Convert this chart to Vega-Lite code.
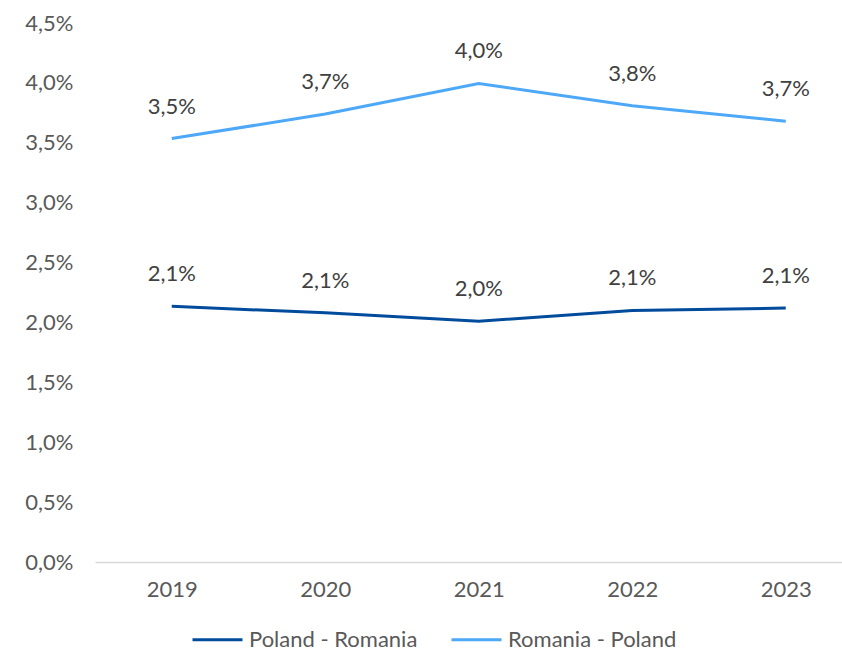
{
  "$schema": "https://vega.github.io/schema/vega-lite/v6.json",
  "width": 747,
  "height": 539,
  "autosize": {"type": "none"},
  "padding": {"left": 95, "top": 23, "right": 0, "bottom": 91},
  "background": "white",
  "config": {
    "locale": {"number": {"decimal": ",", "thousands": ".", "grouping": [3], "currency": ["", " €"]}},
    "view": {"stroke": null},
    "font": "Lato"
  },
  "data": {
    "values": [
      {"year": "2019", "series": "Poland - Romania", "value": 0.02135},
      {"year": "2020", "series": "Poland - Romania", "value": 0.0208},
      {"year": "2021", "series": "Poland - Romania", "value": 0.0201},
      {"year": "2022", "series": "Poland - Romania", "value": 0.0210},
      {"year": "2023", "series": "Poland - Romania", "value": 0.0212},
      {"year": "2019", "series": "Romania - Poland", "value": 0.03535},
      {"year": "2020", "series": "Romania - Poland", "value": 0.0374},
      {"year": "2021", "series": "Romania - Poland", "value": 0.03995},
      {"year": "2022", "series": "Romania - Poland", "value": 0.0381},
      {"year": "2023", "series": "Romania - Poland", "value": 0.0368}
    ]
  },
  "encoding": {
    "x": {
      "field": "year", "type": "ordinal",
      "scale": {"type": "point", "padding": 0.5, "range": [0, 767.5]},
      "axis": {
        "title": null, "labelAngle": 0, "ticks": false, "grid": false,
        "domainColor": "#d9d9d9", "domainWidth": 1.5,
        "labelFontSize": 22, "labelColor": "#595959", "labelPadding": 17, "labelFont": "Lato"
      }
    },
    "y": {
      "field": "value", "type": "quantitative",
      "scale": {"domain": [0, 0.045], "nice": false, "zero": true},
      "axis": {
        "title": null, "format": ".1%", "values": [0, 0.005, 0.01, 0.015, 0.02, 0.025, 0.03, 0.035, 0.04, 0.045],
        "domain": false, "ticks": false, "grid": false,
        "labelFontSize": 22, "labelColor": "#595959", "labelPadding": 22, "labelFont": "Lato"
      }
    },
    "color": {
      "field": "series", "type": "nominal",
      "scale": {"domain": ["Poland - Romania", "Romania - Poland"], "range": ["#004B9C", "#4DA8F7"]},
      "legend": {
        "title": null, "orient": "none", "legendX": 96, "legendY": 590,
        "direction": "horizontal", "symbolType": "stroke", "symbolSize": 2500, "symbolStrokeWidth": 3,
        "labelFontSize": 22, "labelColor": "#595959", "labelOffset": 5, "columnPadding": 27,
        "labelFont": "Lato", "padding": 0, "labelLimit": 400
      }
    }
  },
  "layer": [
    {"mark": {"type": "line", "strokeWidth": 3}},
    {
      "mark": {"type": "text", "dy": -32, "baseline": "middle", "fontSize": 22, "color": "#404040", "font": "Lato"},
      "encoding": {
        "text": {"field": "value", "type": "quantitative", "format": ".1%"},
        "color": {"value": "#404040"}
      }
    }
  ]
}
